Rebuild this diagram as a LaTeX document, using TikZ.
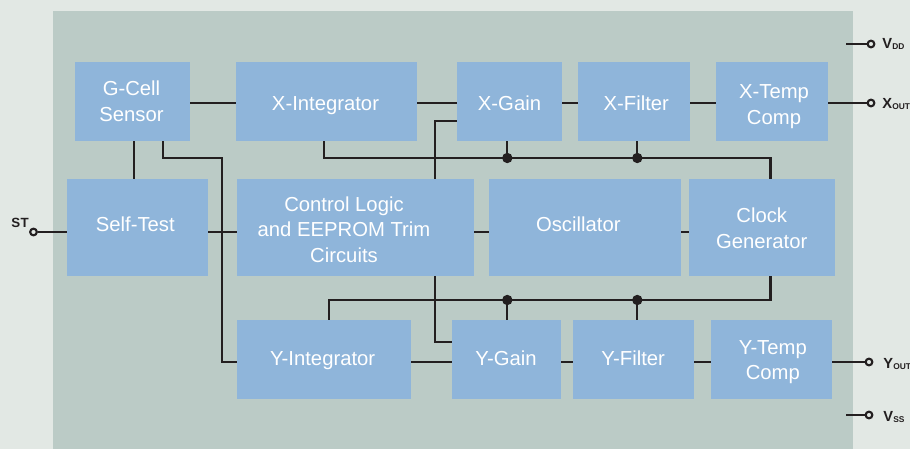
\documentclass[tikz,border=0pt]{standalone}
\usepackage{fontspec}
\setmainfont{Liberation Sans}
\usetikzlibrary{calc}
\definecolor{outerbg}{HTML}{E2E8E4}
\definecolor{panelbg}{HTML}{BBCBC6}
\definecolor{boxfill}{HTML}{8FB5DA}
\definecolor{wirecol}{HTML}{231F20}
\tikzset{
  blk/.style={rectangle, fill=boxfill, draw=none, inner sep=0pt},
  btxt/.style={text=white, font=\fontsize{15.2}{19.3}\selectfont, inner sep=0pt, anchor=base},
  conn/.style={draw=wirecol, line width=1.7pt},
  pin/.style={circle, draw=wirecol, line width=1.6pt, fill=outerbg, inner sep=0pt, minimum size=5pt},
  junct/.style={circle, fill=wirecol, draw=none, inner sep=0pt, minimum size=7.8pt},
  pinlab/.style={font=\fontsize{11}{13}\selectfont\bfseries, text=wirecol, inner sep=0pt, anchor=base west},
}
\newcommand\mkbox[5]{\node[blk, minimum width={(#4-#2)*0.75pt}, minimum height={(#5-#3)*0.75pt}] (#1) at ({(#2+#4)/2},{(#3+#5)/2}) {};}
\newcommand\twol[2]{\begin{tabular}[t]{@{}c@{}}#1\\#2\end{tabular}}
\newcommand\subsc[1]{\kern0.2pt\raisebox{-0.75pt}{\fontsize{6.3}{7}\selectfont\bfseries #1}}
\begin{document}
\begin{tikzpicture}[x=0.75pt,y=-0.75pt]
\useasboundingbox (0,0) rectangle (910,449);
\fill[outerbg] (0,0) rectangle (910,449);
\fill[panelbg] (53,11) rectangle (853,449);

% blocks
\mkbox{gcell}{75}{62}{190}{141}
\mkbox{xint}{236}{62}{417}{141}
\mkbox{xgain}{457}{62}{562}{141}
\mkbox{xfilt}{578}{62}{690}{141}
\mkbox{xtemp}{716}{62}{828}{141}
\mkbox{st}{67}{179}{208}{276}
\mkbox{ctrl}{237}{179}{474}{276}
\mkbox{osc}{489}{179}{681}{276}
\mkbox{clk}{689}{179}{835}{276}
\mkbox{yint}{237}{320}{411}{399}
\mkbox{ygain}{452}{320}{561}{399}
\mkbox{yfilt}{573}{320}{694}{399}
\mkbox{ytemp}{711}{320}{832}{399}

% texts
\node[btxt] (gcellT) at (131.5,95.7) {\twol{G-Cell}{Sensor}};
\node[btxt] (xintT) at (325.5,111) {X-Integrator};
\node[btxt] (xgainT) at (509.5,111) {X-Gain};
\node[btxt] (xfiltT) at (636.3,111) {X-Filter};
\node[btxt] (xtempT) at (774,98.3) {\twol{X-Temp}{Comp}};
\node[btxt] (stT) at (135.3,231) {Self-Test};
\node[btxt] (ctrlT) at (344,211) {\begin{tabular}[t]{@{}c@{}}Control Logic\\and EEPROM Trim\\Circuits\end{tabular}};
\node[btxt] (oscT) at (578.3,231) {Oscillator};
\node[btxt] (clkT) at (761.7,222.7) {\twol{Clock}{Generator}};
\node[btxt] (yintT) at (322.6,365.3) {Y-Integrator};
\node[btxt] (ygainT) at (506,365.3) {Y-Gain};
\node[btxt] (yfiltT) at (633.2,365.3) {Y-Filter};
\node[btxt] (ytempT) at (772.8,354) {\twol{Y-Temp}{Comp}};

% helper coordinates
\coordinate (rowT) at (0,103);
\coordinate (rowM) at (0,232);
\coordinate (rowB) at (0,362);
\coordinate (busT) at (0,158);
\coordinate (busB) at (0,300);
\coordinate (ctlT) at (0,121);
\coordinate (ctlB) at (0,342);
\coordinate (colA) at (134,0);
\coordinate (colB) at (163,0);
\coordinate (colC) at (222,0);
\coordinate (colD) at (324,0);
\coordinate (colE) at (435,0);
\coordinate (colF) at (507.3,0);
\coordinate (colG) at (637.3,0);
\coordinate (colH) at (770.5,0);
\coordinate (colI) at (329,0);
\coordinate (vddin) at (846,44);
\coordinate (vssin) at (846,415);

% pins
\node[pin] (vdd) at (871,44) {};
\node[pin] (xout) at (871,103) {};
\node[pin] (yout) at (869,362) {};
\node[pin] (vss) at (869,415) {};
\node[pin] (stpin) at (33.5,232) {};

% top row
\draw[conn] (gcell.east |- rowT) -- (xint.west |- rowT);
\draw[conn] (xint.east |- rowT) -- (xgain.west |- rowT);
\draw[conn] (xgain.east |- rowT) -- (xfilt.west |- rowT);
\draw[conn] (xfilt.east |- rowT) -- (xtemp.west |- rowT);
\draw[conn] (xtemp.east |- rowT) -- (xout);
\draw[conn] (vddin) -- (vdd);

% middle row
\draw[conn] (stpin) -- (st.west |- rowM);
\draw[conn] (st.east |- rowM) -- (ctrl.west |- rowM);
\draw[conn] (ctrl.east |- rowM) -- (osc.west |- rowM);
\draw[conn] (osc.east |- rowM) -- (clk.west |- rowM);
\draw[conn] (colA |- gcell.south) -- (colA |- st.north);

% G-cell to Y-integrator
\draw[conn] (colB |- gcell.south) -- (colB |- busT) -- (colC |- busT) -- (colC |- rowB) -- (yint.west |- rowB);

% X clock bus
\draw[conn] (colD |- xint.south) -- (colD |- busT) -- (colH |- busT) -- (colH |- clk.north);
\draw[conn] (colF |- xgain.south) -- (colF |- busT);
\draw[conn] (colG |- xfilt.south) -- (colG |- busT);
\node[junct] (j1) at (colF |- busT) {};
\node[junct] (j2) at (colG |- busT) {};

% control logic to gains
\draw[conn] (colE |- ctrl.north) -- (colE |- ctlT) -- (xgain.west |- ctlT);
\draw[conn] (colE |- ctrl.south) -- (colE |- ctlB) -- (ygain.west |- ctlB);

% Y clock bus
\draw[conn] (colH |- clk.south) -- (colH |- busB) -- (colI |- busB) -- (colI |- yint.north);
\draw[conn] (colF |- busB) -- (colF |- ygain.north);
\draw[conn] (colG |- busB) -- (colG |- yfilt.north);
\node[junct] (j3) at (colF |- busB) {};
\node[junct] (j4) at (colG |- busB) {};

% bottom row
\draw[conn] (yint.east |- rowB) -- (ygain.west |- rowB);
\draw[conn] (ygain.east |- rowB) -- (yfilt.west |- rowB);
\draw[conn] (yfilt.east |- rowB) -- (ytemp.west |- rowB);
\draw[conn] (ytemp.east |- rowB) -- (yout);
\draw[conn] (vssin) -- (vss);

% pin labels
\node[pinlab, font=\fontsize{10}{12}\selectfont\bfseries] (stL) at (11,228) {S\kern0.4pt T};
\node[pinlab] (vddL) at (882,49) {V\subsc{DD}};
\node[pinlab] (xoutL) at (882,108.3) {X\subsc{OUT}};
\node[pinlab] (youtL) at (883,368) {Y\subsc{OUT}};
\node[pinlab] (vssL) at (883,421) {V\subsc{SS}};
\end{tikzpicture}
\end{document}
